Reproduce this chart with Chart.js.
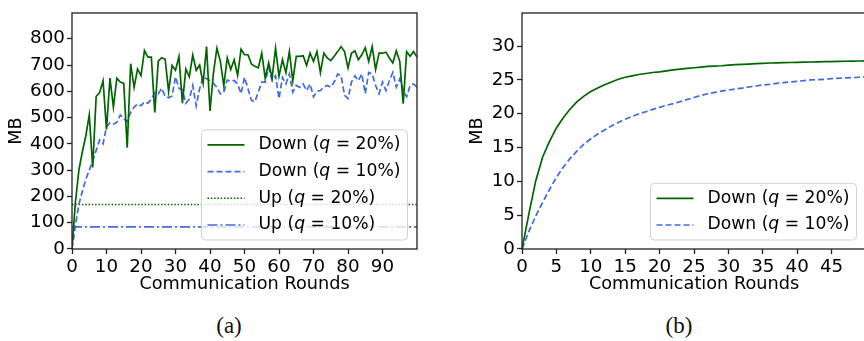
<!DOCTYPE html>
<html lang="en">
<head>
  <meta charset="UTF-8" />
  <title>Communication per round</title>
  <script src="https://cdn.jsdelivr.net/npm/chart.js"></script>
  <style>
    html, body { margin: 0; padding: 0; background: #fff; }
    #wrap { position: relative; width: 864px; height: 341px; overflow: hidden; background: #fff; }
    canvas { position: absolute; top: 0; }
    #chartA { left: 0; }
    #chartB { left: 432px; }
    .cap { position: absolute; top: 313px; font-family: "Liberation Serif", serif; font-size: 23px; color: #111; transform: translateX(-50%); }
  </style>
</head>
<body>
  <div id="wrap">
    <canvas id="chartA" width="432" height="300"></canvas>
    <canvas id="chartB" width="440" height="300"></canvas>
    <div class="cap" style="left: 229px;">(a)</div>
    <div class="cap" style="left: 679px;">(b)</div>
  </div>

  <script>
    // (a) MB per round over 100 rounds
    const downQ20 = [
      0, 180, 300, 370, 430, 510, 310, 580, 595, 640,
      455, 650, 540, 650, 635, 630, 385, 705, 615, 685,
      660, 755, 730, 730, 520, 715, 728, 722, 600, 698,
      680, 732, 555, 685, 655, 738, 680, 700, 630, 770,
      525, 670, 764, 714, 621, 727, 683, 720, 661, 760,
      739, 739, 704, 695, 689, 745, 650, 708, 650, 764,
      658, 720, 671, 751, 640, 733, 733, 735, 698, 745,
      714, 751, 671, 745, 727, 717, 733, 751, 770, 751,
      689, 745, 754, 720, 739, 766, 714, 770, 683, 745,
      745, 749, 727, 708, 754, 714, 553, 751, 733, 751, 730
    ];
    const downQ10 = [
      0, 90, 170, 220, 265, 300, 335, 375, 415, 400,
      465, 480, 475, 482, 510, 495, 485, 520, 540, 552,
      545, 560, 555, 570, 595, 590, 612, 580, 575, 582,
      655, 612, 605, 555, 570, 622, 545, 610, 655, 648,
      640, 630, 615, 590, 597, 643, 638, 641, 628, 591,
      653, 610, 566, 560, 597, 635, 635, 690, 641, 659,
      572, 653, 628, 666, 597, 622, 615, 628, 603, 628,
      579, 600, 603, 616, 622, 616, 635, 666, 659, 585,
      572, 635, 659, 640, 666, 591, 672, 666, 622, 591,
      635, 603, 641, 672, 616, 647, 603, 579, 622, 628, 616
    ];
    const upQ20 = 169;
    const upQ10 = 84;

    // (b) cumulative MB over 50 rounds
    const cumQ20 = [
      0, 5.2, 10.1, 13.6, 15.9, 17.9, 19.4, 20.7, 21.8, 22.6,
      23.3, 23.8, 24.3, 24.7, 25.1, 25.4, 25.6, 25.8, 25.95, 26.1,
      26.2, 26.35, 26.5, 26.6, 26.7, 26.8, 26.9, 27.0, 27.05, 27.1,
      27.2, 27.25, 27.3, 27.35, 27.4, 27.45, 27.5, 27.52, 27.55, 27.58,
      27.6, 27.62, 27.65, 27.67, 27.7, 27.72, 27.74, 27.76, 27.78, 27.8, 27.82
    ];
    const cumQ10 = [
      0, 2.6, 4.9, 6.9, 8.8, 10.6, 12.1, 13.4, 14.5, 15.5,
      16.3, 17.0, 17.6, 18.2, 18.7, 19.2, 19.6, 20.0, 20.3, 20.65,
      20.95, 21.25, 21.5, 21.8, 22.1, 22.4, 22.7, 22.95, 23.15, 23.35,
      23.5, 23.65, 23.8, 23.95, 24.1, 24.25, 24.35, 24.5, 24.6, 24.7,
      24.8, 24.9, 25.0, 25.05, 25.1, 25.2, 25.25, 25.3, 25.35, 25.4, 25.45
    ];

    const xTicksA = [0, 10, 20, 30, 40, 50, 60, 70, 80, 90];
    const yTicksA = [0, 100, 200, 300, 400, 500, 600, 700, 800];
    const xTicksB = [0, 5, 10, 15, 20, 25, 30, 35, 40, 45];
    const yTicksB = [0, 5, 10, 15, 20, 25, 30];

    const GREEN = '#006400';
    const BLUE = '#4169e1';
    const FONT = '"DejaVu Sans", sans-serif';
    const FS = 17.7;
    const TICK_FS = 18.3;
    const LEG_FS = 17.2;

    const pts = arr => arr.map((v, i) => ({ x: i, y: v }));
    const flat = (v, n) => Array.from({ length: n }, (_, i) => ({ x: i, y: v }));

    // matplotlib-like frame + legend with italic q
    const frameAndLegend = {
      id: 'frameAndLegend',
      afterDatasetsDraw(chart) {
        const ctx = chart.ctx;
        const a = chart.chartArea;
        ctx.save();
        ctx.strokeStyle = '#222';
        ctx.lineWidth = 1.3;
        ctx.strokeRect(a.left, a.top, a.right - a.left, a.bottom - a.top);

        const sets = chart.data.datasets;
        const normal = LEG_FS + 'px ' + FONT;
        const ital = 'oblique ' + LEG_FS + 'px ' + FONT;
        const rows = sets.map(ds => {
          const [pre, post] = ds.label.split('q');
          ctx.font = normal;
          const w1 = ctx.measureText(pre).width;
          const w3 = ctx.measureText(post).width;
          ctx.font = ital;
          const w2 = ctx.measureText('q').width;
          return { ds, pre, post, w1, w2, w3, w: w1 + w2 + w3 };
        });
        const rowH = 26.7;
        const textW = Math.max(...rows.map(r => r.w));
        const boxW = 6 + 37 + 14 + textW + 7;
        const boxH = 30 + (rows.length - 1) * rowH;
        const bx = a.right - 9.5 - boxW;
        const by = a.bottom - 9 - boxH;

        ctx.beginPath();
        ctx.roundRect(bx, by, boxW, boxH, 4);
        ctx.fillStyle = 'rgba(255,255,255,0.8)';
        ctx.fill();
        ctx.strokeStyle = '#d0d0d0';
        ctx.lineWidth = 1;
        ctx.stroke();

        rows.forEach((r, i) => {
          const cy = by + 15 + i * rowH;
          ctx.beginPath();
          ctx.setLineDash(r.ds.borderDash || []);
          ctx.strokeStyle = r.ds.borderColor;
          ctx.lineWidth = r.ds.borderWidth;
          ctx.moveTo(bx + 6, cy);
          ctx.lineTo(bx + 43, cy);
          ctx.stroke();
          ctx.setLineDash([]);
          ctx.fillStyle = '#000';
          ctx.textBaseline = 'middle';
          let tx = bx + 57;
          ctx.font = normal;
          ctx.fillText(r.pre, tx, cy);
          tx += r.w1;
          ctx.font = ital;
          ctx.fillText('q', tx, cy);
          tx += r.w2;
          ctx.font = normal;
          ctx.fillText(r.post, tx, cy);
        });
        ctx.restore();
      }
    };

    function axis(opts) {
      return {
        type: 'linear',
        min: opts.min,
        max: opts.max,
        afterBuildTicks: s => { s.ticks = opts.ticks.map(v => ({ value: v })); },
        afterFit: s => {
          if (opts.width) s.width = opts.width;
          if (opts.height) s.height = opts.height;
        },
        ticks: { color: '#000', font: { family: FONT, size: TICK_FS }, padding: 2, maxRotation: 0, autoSkip: false },
        grid: { display: true, drawOnChartArea: false, drawTicks: true, tickLength: 5, tickColor: '#222', tickWidth: 1.3 },
        border: { display: false },
        title: { display: true, text: opts.title, color: '#000', font: { family: FONT, size: FS }, padding: opts.titlePad }
      };
    }

    const base = {
      responsive: false,
      animation: false,
      devicePixelRatio: 1,
      plugins: { legend: { display: false }, tooltip: { enabled: false } },
      elements: { point: { radius: 0 }, line: { tension: 0 } }
    };

    new Chart(document.getElementById('chartA'), {
      type: 'line',
      data: {
        datasets: [
          { label: 'Down (q = 20%)', data: pts(downQ20), borderColor: GREEN, borderWidth: 1.7 },
          { label: 'Down (q = 10%)', data: pts(downQ10), borderColor: BLUE, borderWidth: 1.7, borderDash: [6, 3] },
          { label: 'Up (q = 20%)', data: flat(upQ20, downQ20.length), borderColor: GREEN, borderWidth: 1.5, borderDash: [1.5, 1.8] },
          { label: 'Up (q = 10%)', data: flat(upQ10, downQ20.length), borderColor: BLUE, borderWidth: 1.7, borderDash: [10, 3, 2, 3] }
        ]
      },
      options: Object.assign({}, base, {
        layout: { padding: { top: 7, right: 15, left: 0, bottom: 0 } },
        scales: {
          x: axis({ min: 0, max: 100, ticks: xTicksA, height: 51, title: 'Communication Rounds', titlePad: { top: 0, bottom: 5 } }),
          y: axis({ min: 0, max: 898, ticks: yTicksA, width: 72, title: 'MB', titlePad: { top: 6, bottom: 0 } })
        }
      }),
      plugins: [frameAndLegend]
    });

    new Chart(document.getElementById('chartB'), {
      type: 'line',
      data: {
        datasets: [
          { label: 'Down (q = 20%)', data: pts(cumQ20), borderColor: GREEN, borderWidth: 1.7 },
          { label: 'Down (q = 10%)', data: pts(cumQ10), borderColor: BLUE, borderWidth: 1.7, borderDash: [6, 3] }
        ]
      },
      options: Object.assign({}, base, {
        layout: { padding: { top: 7, right: 6, left: 0, bottom: 0 } },
        scales: {
          x: axis({ min: 0, max: 50, ticks: xTicksB, height: 51, title: 'Communication Rounds', titlePad: { top: 0, bottom: 5 } }),
          y: axis({ min: 0, max: 34.9, ticks: yTicksB, width: 90, title: 'MB', titlePad: { top: 35, bottom: 0 } })
        }
      }),
      plugins: [frameAndLegend]
    });
  </script>
</body>
</html>
